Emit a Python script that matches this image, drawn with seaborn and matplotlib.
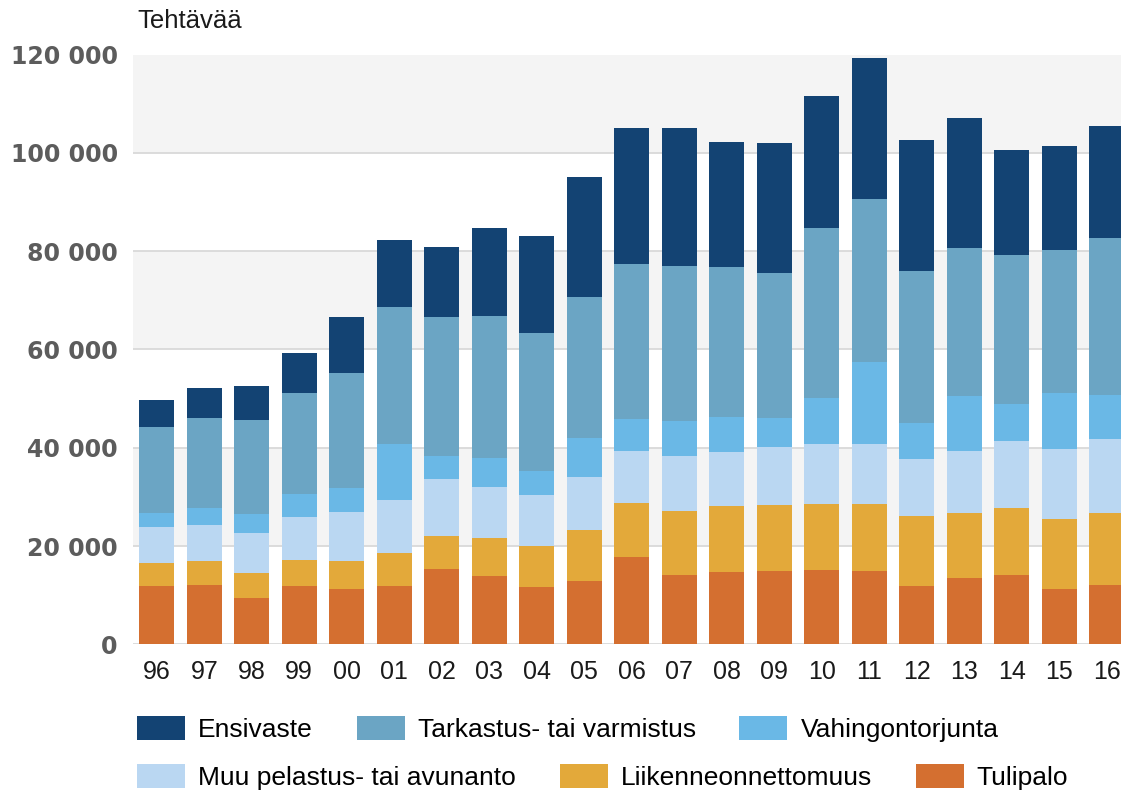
import numpy as np
import pandas as pd
import matplotlib
matplotlib.use("Agg")
import matplotlib.pyplot as plt
from matplotlib.patches import Patch
from matplotlib.ticker import FuncFormatter
import seaborn as sns

# vuodet ja tehtävät lajeittain (kpl)
years = ["96", "97", "98", "99", "00", "01", "02", "03", "04", "05", "06",
         "07", "08", "09", "10", "11", "12", "13", "14", "15", "16"]
tulipalo = [11900, 12100, 9400, 11900, 11200, 11800, 15300, 13800, 11600, 12900, 17800,
            14100, 14700, 15000, 15100, 14900, 11800, 13400, 14000, 11200, 12000]
liikenne = [4600, 4800, 5200, 5300, 5800, 6700, 6800, 7800, 8500, 10300, 10900,
            13000, 13400, 13300, 13400, 13600, 14300, 13300, 13700, 14200, 14700]
muu_pelastus = [7300, 7400, 8100, 8600, 10000, 10900, 11500, 10500, 10200, 10800, 10600,
                11300, 11000, 11900, 12200, 12300, 11700, 12700, 13700, 14300, 15000]
vahingontorjunta = [2900, 3400, 3900, 4700, 4900, 11400, 4800, 5800, 5000, 8000, 6500,
                    7000, 7100, 5800, 9400, 16700, 7300, 11200, 7500, 11400, 9000]
tarkastus = [17600, 18300, 19100, 20600, 23200, 27800, 28100, 28900, 28000, 28700, 31500,
             31600, 30500, 29600, 34500, 33000, 30800, 30000, 30300, 29100, 32000]
ensivaste = [5500, 6100, 6800, 8100, 11400, 13700, 14300, 17800, 19800, 24400, 27700,
             28000, 25400, 26300, 26900, 28700, 26800, 26400, 21300, 21200, 22800]

series_names = ["Tulipalo", "Liikenneonnettomuus", "Muu pelastus- tai avunanto",
                "Vahingontorjunta", "Tarkastus- tai varmistus", "Ensivaste"]
series_values = [tulipalo, liikenne, muu_pelastus, vahingontorjunta, tarkastus, ensivaste]
colors = {
    "Tulipalo": "#d46f30",
    "Liikenneonnettomuus": "#e3a93a",
    "Muu pelastus- tai avunanto": "#bad7f2",
    "Vahingontorjunta": "#6ab8e6",
    "Tarkastus- tai varmistus": "#6ba5c4",
    "Ensivaste": "#134373",
}

df = pd.DataFrame({"vuosi": years})
cum = np.zeros(len(years))
for name, vals in zip(series_names, series_values):
    cum = cum + np.array(vals)
    df[name] = cum

plt.rcParams['font.family'] = ['Liberation Sans', 'DejaVu Sans']

fig = plt.figure(figsize=(11.21, 7.92), dpi=100)
ax = fig.add_axes([133 / 1121, 1 - 644.3 / 792, 1 - 133 / 1121, (644.3 - 54.5) / 792])

# taustan vaaleat vyöhykkeet ja apuviivat
for lo in [20000, 60000, 100000]:
    ax.axhspan(lo, lo + 20000, color="#f4f4f4", zorder=0, lw=0)
for yv in range(0, 120001, 20000):
    ax.axhline(yv, color="#d6d6d6", lw=1.2, zorder=0.5)

# pinotut pylväät: suurin kumulatiivinen ensin
for name in reversed(series_names):
    sns.barplot(data=df, x="vuosi", y=name, order=years, color=colors[name],
                width=0.73, saturation=1, ax=ax, zorder=2, linewidth=0)

ax.set_xlim(-0.5, 20.3)
ax.set_ylim(0, 120000)
ax.set_yticks(range(0, 120001, 20000))
ax.yaxis.set_major_formatter(FuncFormatter(lambda v, p: f"{int(v):,}".replace(",", " ")))
ax.set_xlabel("")
ax.set_ylabel("")
for s in ax.spines.values():
    s.set_visible(False)
ax.tick_params(axis="y", length=0, pad=11, labelsize=17, labelcolor="#5c5c5c")
ax.tick_params(axis="x", length=0, pad=11)
for lab in ax.get_yticklabels():
    lab.set_fontweight("bold")
    lab.set_family("DejaVu Sans")
for lab in ax.get_xticklabels():
    lab.set_family(["Liberation Sans Narrow", "Liberation Sans"])
    lab.set_fontsize(18)
    lab.set_color("#1a1a1a")
ax.set_axisbelow(True)

fig.text(137 / 1121, 1 - 28 / 792, "Tehtävää", fontsize=18.5, color="#1a1a1a",
         ha="left", va="baseline")

# selite kahdessa rivissä
rows = [["Ensivaste", "Tarkastus- tai varmistus", "Vahingontorjunta"],
        ["Muu pelastus- tai avunanto", "Liikenneonnettomuus", "Tulipalo"]]
for i, row in enumerate(rows):
    handles = [Patch(facecolor=colors[n], edgecolor="none") for n in row]
    fig.legend(handles, row, ncol=3, frameon=False, loc="center left",
               bbox_to_anchor=(137 / 1121, 1 - (729 + 48 * i) / 792),
               borderpad=0, borderaxespad=0, fontsize=19,
               handlelength=1.82, handleheight=1.06, handletextpad=0.5,
               columnspacing=1.65)

plt.savefig("out.png", dpi=100)
